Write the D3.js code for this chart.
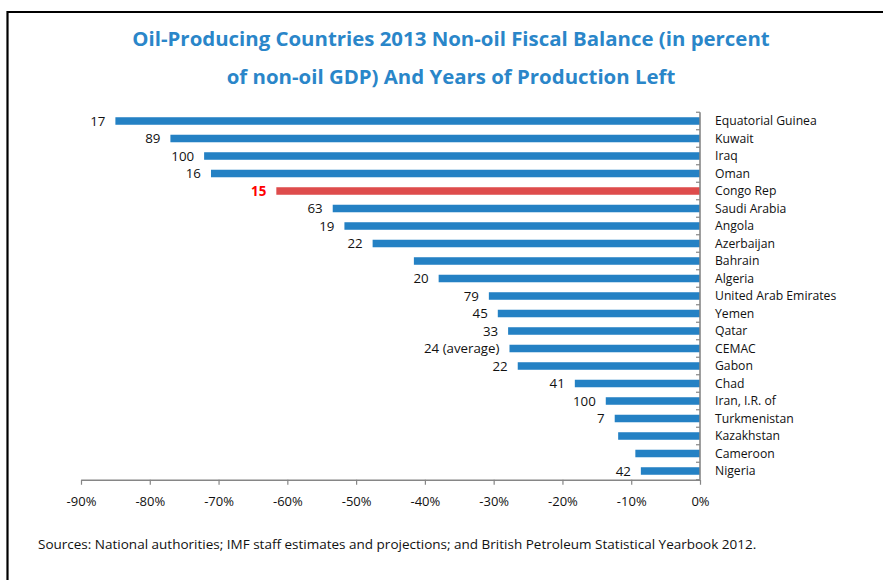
<!DOCTYPE html>
<html>
<head>
<meta charset="utf-8">
<script src="https://cdn.jsdelivr.net/npm/d3@7"></script>
<style>
  html, body { margin: 0; padding: 0; background: #fff; }
  svg { display: block; font-family: "Open Sans", "Noto Sans", sans-serif; }
</style>
</head>
<body>
<svg id="chart" width="883" height="580"></svg>
<script>
// Countries, top to bottom
const countries = [
  "Equatorial Guinea", "Kuwait", "Iraq", "Oman", "Congo Rep", "Saudi Arabia",
  "Angola", "Azerbaijan", "Bahrain", "Algeria", "United Arab Emirates", "Yemen",
  "Qatar", "CEMAC", "Gabon", "Chad", "Iran, I.R. of", "Turkmenistan",
  "Kazakhstan", "Cameroon", "Nigeria"
];

// 2013 non-oil fiscal balance, percent of non-oil GDP
const nonOilBalance = [
  -85, -77, -72.1, -71.1, -61.6, -53.4,
  -51.7, -47.6, -41.6, -38.0, -30.7, -29.4,
  -27.9, -27.7, -26.5, -18.2, -13.7, -12.4,
  -11.9, -9.4, -8.6
];

// Years of production left (blank where not reported)
const yearsLeft = [
  "17", "89", "100", "16", "15", "63",
  "19", "22", "", "20", "79", "45",
  "33", "24 (average)", "22", "41", "100", "7",
  "", "", "42"
];

const highlighted = "Congo Rep";
const xTicks = [-90, -80, -70, -60, -50, -40, -30, -20, -10, 0];

const titleLines = [
  "Oil-Producing Countries 2013 Non-oil Fiscal Balance (in percent",
  "of non-oil GDP) And Years of Production Left"
];
const sourceNote = "Sources: National authorities; IMF staff estimates and projections; and British Petroleum Statistical Yearbook 2012.";

const svg = d3.select("#chart");
const rows = countries.map((c, i) => ({ country: c, value: nonOilBalance[i], years: yearsLeft[i] }));

// Frame lines along the top and left edge
svg.append("line").attr("x1", 7.5).attr("x2", 883).attr("y1", 12).attr("y2", 12)
  .attr("stroke", "#000").attr("stroke-width", 2.2);
svg.append("line").attr("x1", 7.5).attr("x2", 7.5).attr("y1", 11).attr("y2", 580)
  .attr("stroke", "#000").attr("stroke-width", 2.2);

// Title
svg.append("g").selectAll("text").data(titleLines).join("text")
  .attr("x", 451).attr("y", (d, i) => 46 + i * 38)
  .attr("text-anchor", "middle")
  .attr("font-size", 20.4).attr("font-weight", "bold")
  .attr("fill", "#2A86C9")
  .text(d => d);

const x = d3.scaleLinear().domain([-90, 0]).range([81, 700]);
const y = d3.scaleBand().domain(countries).range([112.25, 479.75]).paddingInner(0.57).paddingOuter(0.285);

// Bars
svg.append("g").selectAll("rect").data(rows).join("rect")
  .attr("x", d => x(d.value))
  .attr("y", d => y(d.country))
  .attr("width", d => x(0) - x(d.value))
  .attr("height", y.bandwidth())
  .attr("fill", d => d.country === highlighted ? "#DE4C4C" : "#2481C4");

// Years-of-production labels at the bar ends
svg.append("g").selectAll("text").data(rows.filter(d => d.years !== "")).join("text")
  .attr("x", d => x(d.value) - 10)
  .attr("y", d => y(d.country) + y.bandwidth() / 2)
  .attr("dy", "0.35em")
  .attr("text-anchor", "end")
  .attr("font-size", 13.3)
  .attr("font-weight", d => d.country === highlighted ? "bold" : "normal")
  .attr("fill", d => d.country === highlighted ? "#FF0000" : "#111")
  .text(d => d.years);

// Horizontal axis
const xAxis = svg.append("g").attr("transform", "translate(0,479.75)")
  .call(d3.axisBottom(x).tickValues(xTicks).tickSize(5).tickSizeOuter(0)
    .tickFormat(d => d + "%"));
xAxis.select(".domain").attr("stroke", "#868686").attr("stroke-width", 1.6);
xAxis.selectAll(".tick line").attr("stroke", "#868686").attr("stroke-width", 1.2);
xAxis.selectAll(".tick text").attr("font-size", 13).attr("fill", "#111")
  .attr("font-family", "\"Open Sans\", sans-serif").attr("dy", "1.4em");

// Vertical axis at 0% with ticks between categories
const bounds = d3.range(countries.length + 1).map(i => 112.25 + i * y.step());
svg.append("line").attr("x1", x(0)).attr("x2", x(0)).attr("y1", 112.25).attr("y2", 479.75)
  .attr("stroke", "#868686").attr("stroke-width", 1.6);
svg.append("g").selectAll("line").data(bounds).join("line")
  .attr("x1", x(0) - 4).attr("x2", x(0)).attr("y1", d => d).attr("y2", d => d)
  .attr("stroke", "#868686").attr("stroke-width", 1.2);

// Country names
svg.append("g").selectAll("text").data(rows).join("text")
  .attr("x", 715)
  .attr("y", d => y(d.country) + y.bandwidth() / 2)
  .attr("dy", "0.35em")
  .attr("font-size", 12.2)
  .attr("fill", "#111")
  .text(d => d.country);

// Source note
svg.append("text").attr("x", 38).attr("y", 549)
  .attr("font-size", 13.5).attr("fill", "#111")
  .text(sourceNote);
</script>
</body>
</html>
